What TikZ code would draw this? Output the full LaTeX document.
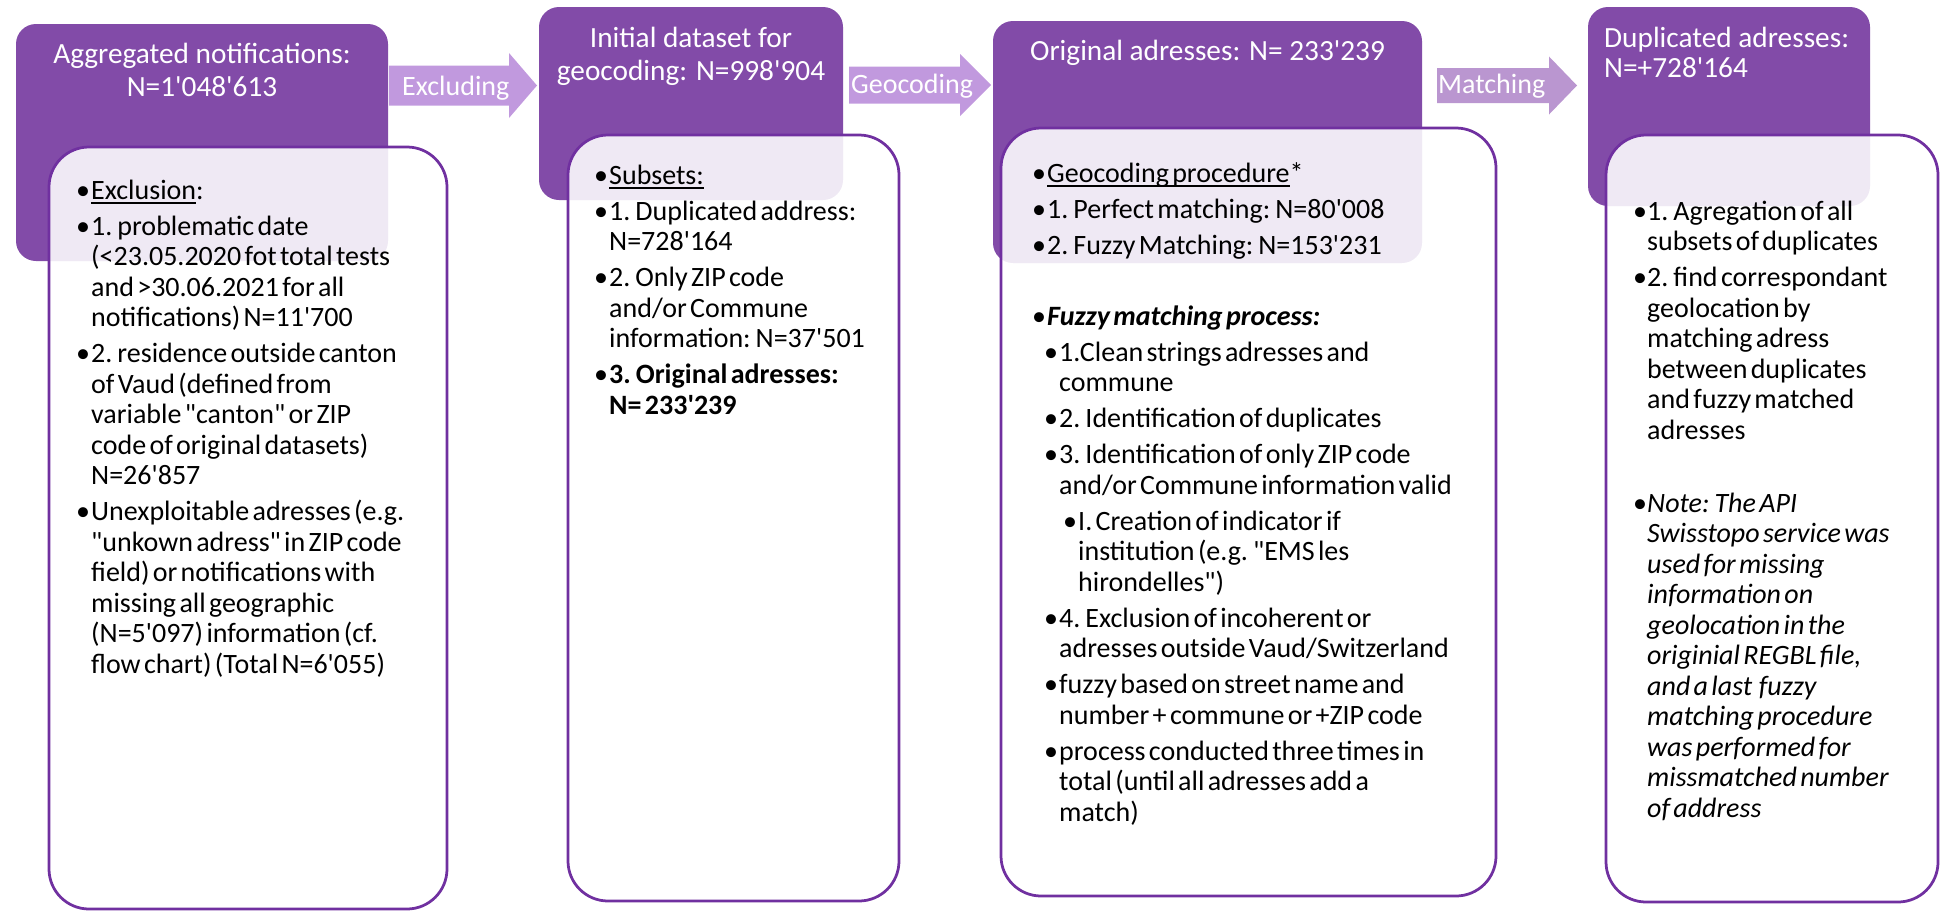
\documentclass[tikz,border=0pt]{standalone}
\usepackage{fontspec}
\setmainfont{Carlito}[Ligatures=TeXOff]
\usetikzlibrary{calc}
\definecolor{hdrpurple}{RGB}{130,75,168}
\definecolor{boxline}{RGB}{112,48,160}
\definecolor{arrowc}{RGB}{193,153,222}
\definecolor{arrowm}{RGB}{186,150,208}
\newlength\ulw
\newcommand\uline[1]{\settowidth\ulw{#1}\rlap{\rule[-4.5pt]{\ulw}{1.6pt}}#1}
\newcommand\bodyset{\fontsize{28}{30.5}\selectfont\setlength\parskip{5.5pt}\raggedright}
\newcommand\bi[3][0pt]{\leftskip=#1\relax\hangindent=#2\hangafter=1\noindent\makebox[#2][l]{\textbullet}#3\par}
\newcommand\fatarrow[6]{\fill[#6] let \p1=(#1), \p2=(#2) in
  (\x1,\y1+#3) -- (\x2-#5,\y1+#3) -- (\x2-#5,\y1+#4) -- (\x2,\y2) --
  (\x2-#5,\y1-#4) -- (\x2-#5,\y1-#3) -- (\x1,\y1-#3) -- cycle;}
\tikzset{
  hdr/.style={fill=hdrpurple, rounded corners=20pt, inner sep=0pt, draw=none},
  detail/.style={fill=white, fill opacity=0.88, draw=boxline, draw opacity=1,
    line width=2.75pt, rounded corners=40pt, inner sep=0pt},
  htext/.style={text=white, font=\fontsize{29.3}{33}\selectfont, inner sep=0pt},
  atext/.style={text=white, font=\fontsize{28}{30}\selectfont, inner sep=0pt, anchor=base west},
  body/.style={anchor=base west, inner sep=0pt, text width=440pt, align=left},
}
\begin{document}
\begin{tikzpicture}[x=1pt,y=-1pt]
\useasboundingbox (0,0) rectangle (1942,913);
% header boxes
\node[hdr, minimum width=372, minimum height=237] (H1) at (202,142.5) {};
\node[hdr, minimum width=304, minimum height=193] (H2) at (691,103.5) {};
\node[hdr, minimum width=429, minimum height=242] (H3) at (1207.5,142) {};
\node[hdr, minimum width=282, minimum height=199] (H4) at (1729,106.5) {};
% arrows
\coordinate (a1s) at (389,85.5); \coordinate (a1t) at (537,85.5);
\coordinate (a2s) at (849,85);   \coordinate (a2t) at (991,85);
\coordinate (a3s) at (1437,85.5); \coordinate (a3t) at (1577,85.5);
\fatarrow{a1s}{a1t}{20pt}{32.5pt}{28pt}{arrowc}
\fatarrow{a2s}{a2t}{18.5pt}{31pt}{31pt}{arrowc}
\fatarrow{a3s}{a3t}{17.5pt}{29pt}{28pt}{arrowm}
\node[atext] (l1) at (402,95) {Excluding};
\node[atext] (l2) at (851,93) {Geocoding};
\node[atext] (l3) at (1438,93) {Matching};
% detail boxes
\node[detail, minimum width=398, minimum height=762] (D1) at (248,528) {};
\node[detail, minimum width=331, minimum height=766] (D2) at (733.5,518) {};
\node[detail, minimum width=495, minimum height=768] (D3) at (1248.5,512) {};
\node[detail, minimum width=332, minimum height=767] (D4) at (1772,518.5) {};
% header texts
\node[htext, anchor=base] (h1a) at (202,63) {Aggregated notifications:};
\node[htext, anchor=base] (h1b) at (202,96) {N=1'048'613};
\node[htext, anchor=base] (h2a) at (691,47) {Initial dataset for};
\node[htext, anchor=base] (h2b) at (691,80) {geocoding: N=998'904};
\node[htext, anchor=base] (h3a) at (1207.5,60) {Original adresses: N= 233'239};
\node[htext, anchor=base west] (h4a) at (1604,47) {Duplicated adresses:};
\node[htext, anchor=base west] (h4b) at (1604,77) {N=+728'164};
% body texts
\node[body] (t1) at (76,199) {\bodyset
\bi{15pt}{\uline{Exclusion}:}
\bi{15pt}{1. problematic date\newline (<23.05.2020 fot total tests\newline and >30.06.2021 for all\newline notifications) N=11'700}
\bi{15pt}{2. residence outside canton\newline of Vaud (defined from\newline variable "canton" or ZIP\newline code of original datasets)\newline N=26'857}
\bi{15pt}{Unexploitable adresses (e.g.\newline "unkown adress" in ZIP code\newline field) or notifications with\newline missing all geographic\newline (N=5'097) information (cf.\newline flow chart) (Total N=6'055)}};
\node[body] (t2) at (594,184) {\bodyset
\bi{15pt}{\uline{Subsets:}}
\bi{15pt}{1. Duplicated address:\newline N=728'164}
\bi{15pt}{2. Only ZIP code\newline and/or Commune\newline information: N=37'501}
\bi{15pt}{\textbf{3. Original adresses:\newline N= 233'239}}};
\node[body] (t3a) at (1032,182) {\bodyset
\bi{15pt}{\uline{Geocoding procedure}*}
\bi{15pt}{1. Perfect matching: N=80'008}
\bi{15pt}{2. Fuzzy Matching: N=153'231}};
\node[body] (t3b) at (1032,325) {\bodyset
\bi{15pt}{\textbf{\textit{Fuzzy matching process:}}}
\bi[12pt]{15pt}{1.Clean strings adresses and\newline commune}
\bi[12pt]{15pt}{2. Identification of duplicates}
\bi[12pt]{15pt}{3. Identification of only ZIP code\newline and/or Commune information valid}
\bi[31pt]{15pt}{I. Creation of indicator if\newline institution (e.g. "EMS les\newline hirondelles")}
\bi[12pt]{15pt}{4. Exclusion of incoherent or\newline adresses outside Vaud/Switzerland}
\bi[12pt]{15pt}{fuzzy based on street name and\newline number + commune or +ZIP code}
\bi[12pt]{15pt}{process conducted three times in\newline total (until all adresses add a\newline match)}};
\node[body] (t4a) at (1633,220) {\bodyset
\bi{14pt}{1. Agregation of all\newline subsets of duplicates}
\bi{14pt}{2. find correspondant\newline geolocation by\newline matching adress\newline between duplicates\newline and fuzzy matched\newline adresses}};
\node[body] (t4b) at (1633,512) {\bodyset
\bi{14pt}{\textit{Note: The API\newline Swisstopo service was\newline used for missing\newline information on\newline geolocation in the\newline originial REGBL file,\newline and a last\ \ fuzzy\newline matching procedure\newline was performed for\newline missmatched number\newline of address}}};
\end{tikzpicture}
\end{document}
